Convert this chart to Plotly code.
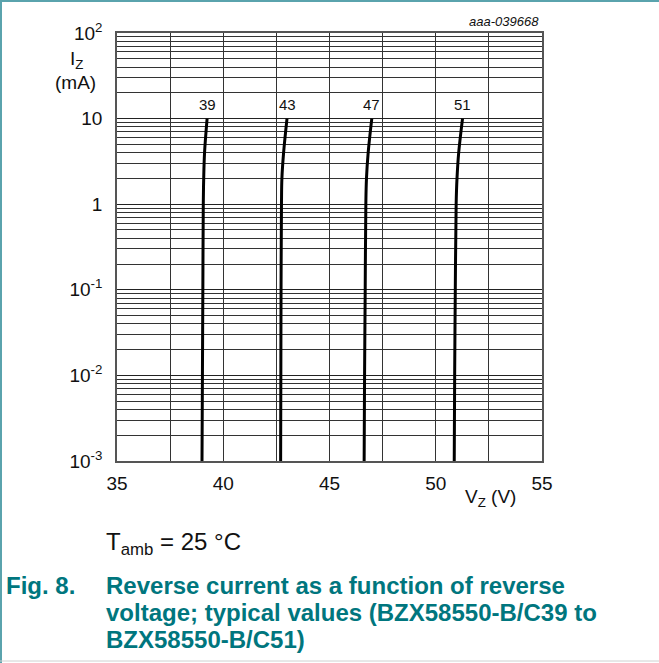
import plotly.graph_objects as go

# ---- data ----
ytick_vals = [1e-3, 1e-2, 1e-1, 1, 10, 100]
ytick_text = ["10<sup>-3</sup>", "10<sup>-2</sup>", "10<sup>-1</sup>", "1", "10", "10<sup>2</sup>"]
xtick_vals = [35, 40, 45, 50, 55]
xgrid_vals = [35, 37.5, 40, 42.5, 45, 47.5, 50, 52.5, 55]

curve_labels = ["39", "43", "47", "51"]
iz_39 = [0.001, 0.01, 0.1, 1, 2, 4, 10]
vz_39 = [39.00, 39.02, 39.04, 39.06, 39.08, 39.12, 39.24]
iz_43 = [0.001, 0.01, 0.1, 1, 2, 4, 10]
vz_43 = [42.70, 42.71, 42.72, 42.74, 42.76, 42.84, 43.00]
iz_47 = [0.001, 0.01, 0.1, 1, 2, 4, 10]
vz_47 = [46.63, 46.65, 46.68, 46.71, 46.74, 46.82, 46.99]
iz_51 = [0.001, 0.01, 0.1, 1, 2, 4, 10]
vz_51 = [50.87, 50.89, 50.92, 50.96, 51.00, 51.08, 51.26]

series = [(vz_39, iz_39), (vz_43, iz_43), (vz_47, iz_47), (vz_51, iz_51)]

caption_lines = ["Reverse current as a function of reverse",
                 "voltage; typical values (BZX58550-B/C39 to",
                 "BZX58550-B/C51)"]

minor_vals = [m * 10 ** e for e in range(-3, 2) for m in range(2, 10)]

W, H = 659, 663
L, R, T, B = 117, 542, 33, 461

def px(x):
    return (x - L) / (R - L)

def py(y):
    return (B - y) / (B - T)

fig = go.Figure()
for (vx, iy) in series:
    fig.add_trace(go.Scatter(x=vx, y=iy, mode="lines",
                             line=dict(color="black", width=3, shape="spline"),
                             showlegend=False, hoverinfo="skip"))

FONT = "Liberation Sans, Arial, sans-serif"
TXT = "#111"
TEAL = "#00767e"
ann = []
for (vx, iy), lab in zip(series, curve_labels):
    ann.append(dict(x=vx[-1], y=1.17, xref="x", yref="y", text=lab, showarrow=False,
                    font=dict(family=FONT, size=15, color=TXT), bgcolor="white",
                    yanchor="middle", xanchor="center", borderpad=0))

ann += [
    dict(x=px(541), y=py(21), xref="paper", yref="paper", text="<i>aaa-039668</i>",
         showarrow=False, xanchor="right", yanchor="middle",
         font=dict(family=FONT, size=13, color=TXT)),
    dict(x=px(76), y=py(60), xref="paper", yref="paper", text="I<sub>Z</sub>",
         showarrow=False, xanchor="center", yanchor="middle",
         font=dict(family=FONT, size=19, color=TXT)),
    dict(x=px(75), y=py(83), xref="paper", yref="paper", text="(mA)",
         showarrow=False, xanchor="center", yanchor="middle",
         font=dict(family=FONT, size=19, color=TXT)),
    dict(x=px(490), y=py(498), xref="paper", yref="paper", text="V<sub>Z</sub> (V)",
         showarrow=False, xanchor="center", yanchor="middle",
         font=dict(family=FONT, size=19, color=TXT)),
    dict(x=px(104), y=py(543), xref="paper", yref="paper", text="T<sub>amb</sub> = 25 °C",
         showarrow=False, xanchor="left", yanchor="middle",
         font=dict(family=FONT, size=24, color=TXT)),
    dict(x=px(4), y=py(585), xref="paper", yref="paper", text="<b>Fig. 8.</b>",
         showarrow=False, xanchor="left", yanchor="middle",
         font=dict(family=FONT, size=24, color=TEAL)),
]
for i, line in enumerate(caption_lines):
    ann.append(dict(x=px(104), y=py(585 + 27 * i), xref="paper", yref="paper",
                    text="<b>" + line + "</b>", showarrow=False,
                    xanchor="left", yanchor="middle",
                    font=dict(family=FONT, size=24, color=TEAL)))

shapes = [
    dict(type="line", xref="paper", yref="paper", x0=px(1), x1=px(1), y0=py(0), y1=py(663),
         line=dict(color="#5aa3ad", width=2)),
    dict(type="line", xref="paper", yref="paper", x0=px(0), x1=px(659), y0=py(1), y1=py(1),
         line=dict(color="#5aa3ad", width=2)),
    dict(type="line", xref="paper", yref="paper", x0=px(0), x1=px(659), y0=py(661), y1=py(661),
         line=dict(color="#d0d0d0", width=1)),
]

fig.update_layout(
    width=W, height=H,
    margin=dict(l=L, r=W - R, t=T, b=H - B),
    paper_bgcolor="white", plot_bgcolor="white",
    font=dict(family=FONT, size=19, color=TXT),
    annotations=ann, shapes=shapes,
    xaxis=dict(range=[35, 55], tickmode="array", tickvals=xtick_vals,
               showgrid=False, zeroline=False, ticks="", ticklabelstandoff=4,
               showline=True, linecolor="#555", linewidth=1.5, mirror=True,
               tickfont=dict(family=FONT, size=19, color=TXT),
               minor=dict(tickmode="array", tickvals=xgrid_vals, showgrid=True,
                          gridcolor="#333", gridwidth=1, ticks="")),
    yaxis=dict(type="log", range=[-3, 2], tickmode="array", tickvals=ytick_vals,
               ticktext=ytick_text, showgrid=True, gridcolor="#222", gridwidth=1,
               zeroline=False, ticks="", ticklabelstandoff=9,
               showline=True, linecolor="#555", linewidth=1.5, mirror=True,
               tickfont=dict(family=FONT, size=19, color=TXT),
               minor=dict(tickmode="array", tickvals=minor_vals, showgrid=True,
                          gridcolor="#333", gridwidth=1, ticks="")),
)

fig.write_html("out.html", config={"displayModeBar": False},
               post_script="document.body.style.margin='0';")
